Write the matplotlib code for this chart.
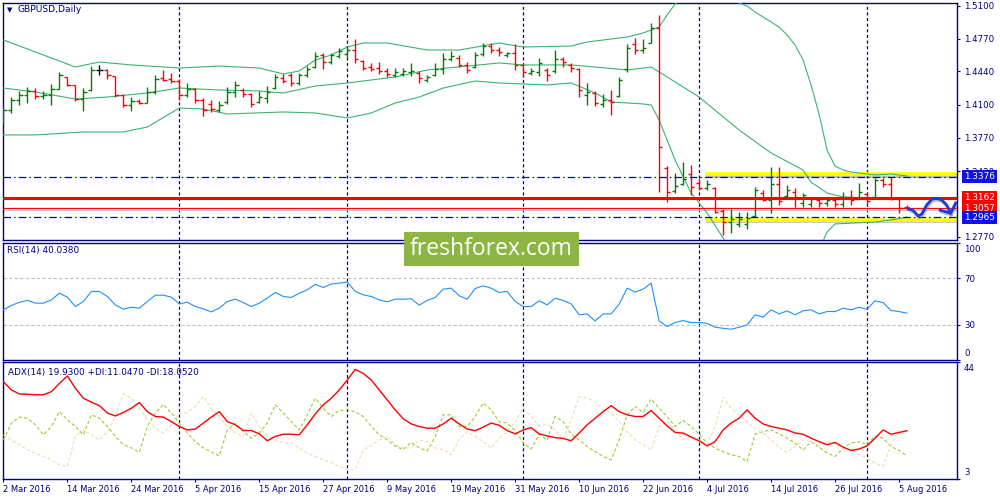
import matplotlib
matplotlib.use('Agg')
import matplotlib.pyplot as plt
import matplotlib.patheffects as pe
from matplotlib.patches import Rectangle
from matplotlib.transforms import blended_transform_factory

# GBPUSD daily bars, 2 Mar 2016 .. 8 Aug 2016
opens = [1.3930, 1.4050, 1.4150, 1.4200, 1.4240, 1.4190, 1.4200, 1.4260, 1.4380, 1.4300,
         1.4160, 1.4250, 1.4450, 1.4450, 1.4390, 1.4200, 1.4100, 1.4140, 1.4120, 1.4230,
         1.4370, 1.4360, 1.4340, 1.4200, 1.4260, 1.4150, 1.4110, 1.4050, 1.4130, 1.4230,
         1.4250, 1.4210, 1.4130, 1.4170, 1.4270, 1.4370, 1.4400, 1.4320, 1.4400, 1.4480,
         1.4600, 1.4530, 1.4590, 1.4610, 1.4660, 1.4540, 1.4480, 1.4470, 1.4440, 1.4400,
         1.4410, 1.4430, 1.4420, 1.4350, 1.4400, 1.4460, 1.4560, 1.4570, 1.4500, 1.4480,
         1.4610, 1.4700, 1.4660, 1.4600, 1.4620, 1.4500, 1.4420, 1.4430, 1.4450, 1.4440,
         1.4560, 1.4500, 1.4460, 1.4200, 1.4220, 1.4110, 1.4150, 1.4190, 1.4460, 1.4720,
         1.4650, 1.4730, 1.4880, 1.3460, 1.3230, 1.3300, 1.3400, 1.3310, 1.3260, 1.3260,
         1.3030, 1.2920, 1.2900, 1.2900, 1.2980, 1.3210, 1.3140, 1.3300, 1.3180, 1.3220,
         1.3110, 1.3100, 1.3140, 1.3110, 1.3140, 1.3100, 1.3170, 1.3150, 1.3200, 1.3170,
         1.3340, 1.3300, 1.3150, 1.3070]
highs = [1.4079, 1.4180, 1.4241, 1.4281, 1.4271, 1.4241, 1.4312, 1.4433, 1.4382, 1.4302,
         1.4271, 1.4493, 1.4504, 1.4463, 1.4392, 1.4211, 1.4180, 1.4160, 1.4281, 1.4403,
         1.4453, 1.4423, 1.4362, 1.4322, 1.4271, 1.4170, 1.4150, 1.4140, 1.4281, 1.4342,
         1.4271, 1.4221, 1.4241, 1.4291, 1.4413, 1.4413, 1.4423, 1.4423, 1.4493, 1.4635,
         1.4625, 1.4625, 1.4675, 1.4695, 1.4766, 1.4554, 1.4524, 1.4534, 1.4473, 1.4473,
         1.4473, 1.4524, 1.4443, 1.4403, 1.4524, 1.4625, 1.4645, 1.4605, 1.4534, 1.4635,
         1.4726, 1.4726, 1.4685, 1.4635, 1.4716, 1.4524, 1.4473, 1.4574, 1.4473, 1.4655,
         1.4584, 1.4524, 1.4473, 1.4322, 1.4241, 1.4211, 1.4251, 1.4382, 1.4716, 1.4776,
         1.4766, 1.4928, 1.5009, 1.3483, 1.3413, 1.3524, 1.3494, 1.3362, 1.3342, 1.3271,
         1.3049, 1.3049, 1.3019, 1.3019, 1.3271, 1.3241, 1.3473, 1.3473, 1.3292, 1.3261,
         1.3211, 1.3170, 1.3160, 1.3160, 1.3160, 1.3221, 1.3241, 1.3312, 1.3221, 1.3362,
         1.3362, 1.3372, 1.3160, 1.3089]
lows = [1.3908, 1.4019, 1.4100, 1.4120, 1.4160, 1.4160, 1.4100, 1.4261, 1.4291, 1.4140,
        1.4039, 1.4241, 1.4403, 1.4362, 1.4180, 1.4079, 1.4039, 1.4110, 1.4120, 1.4211,
        1.4342, 1.4322, 1.4150, 1.4180, 1.4120, 1.3988, 1.4029, 1.4029, 1.4110, 1.4180,
        1.4180, 1.4079, 1.4120, 1.4120, 1.4261, 1.4322, 1.4291, 1.4302, 1.4382, 1.4473,
        1.4463, 1.4514, 1.4574, 1.4584, 1.4524, 1.4453, 1.4443, 1.4413, 1.4382, 1.4382,
        1.4392, 1.4392, 1.4322, 1.4332, 1.4392, 1.4413, 1.4544, 1.4483, 1.4423, 1.4473,
        1.4594, 1.4625, 1.4594, 1.4584, 1.4453, 1.4382, 1.4402, 1.4392, 1.4342, 1.4423,
        1.4483, 1.4433, 1.4180, 1.4100, 1.4089, 1.4079, 1.3999, 1.4180, 1.4433, 1.4615,
        1.4625, 1.4726, 1.3221, 1.3120, 1.3211, 1.3292, 1.3191, 1.3241, 1.3241, 1.3009,
        1.2787, 1.2807, 1.2867, 1.2847, 1.2968, 1.3130, 1.3009, 1.3089, 1.3170, 1.3069,
        1.3069, 1.3069, 1.3069, 1.3079, 1.3069, 1.3069, 1.3089, 1.3150, 1.3100, 1.3170,
        1.3271, 1.3140, 1.3009, 1.3039]
closes = [1.4050, 1.4150, 1.4200, 1.4240, 1.4190, 1.4200, 1.4260, 1.4400, 1.4300, 1.4160,
          1.4230, 1.4450, 1.4450, 1.4400, 1.4200, 1.4100, 1.4140, 1.4120, 1.4230, 1.4360,
          1.4350, 1.4340, 1.4200, 1.4260, 1.4150, 1.4050, 1.4060, 1.4100, 1.4230, 1.4300,
          1.4210, 1.4110, 1.4180, 1.4230, 1.4380, 1.4340, 1.4320, 1.4400, 1.4460, 1.4590,
          1.4530, 1.4600, 1.4640, 1.4650, 1.4560, 1.4470, 1.4460, 1.4440, 1.4410, 1.4430,
          1.4440, 1.4440, 1.4370, 1.4380, 1.4460, 1.4560, 1.4590, 1.4500, 1.4450, 1.4600,
          1.4700, 1.4660, 1.4630, 1.4620, 1.4500, 1.4430, 1.4440, 1.4520, 1.4400, 1.4560,
          1.4530, 1.4470, 1.4250, 1.4230, 1.4120, 1.4150, 1.4130, 1.4350, 1.4680, 1.4660,
          1.4680, 1.4880, 1.3680, 1.3220, 1.3280, 1.3350, 1.3270, 1.3260, 1.3300, 1.3020,
          1.2920, 1.2950, 1.2950, 1.2960, 1.3240, 1.3140, 1.3300, 1.3130, 1.3240, 1.3170,
          1.3190, 1.3150, 1.3110, 1.3140, 1.3100, 1.3170, 1.3140, 1.3220, 1.3130, 1.3340,
          1.3300, 1.3150, 1.3060, 1.3050]

# Bollinger bands, sampled at bar numbers
bb_up_bar = [0, 4, 9, 12, 16, 22, 27, 32, 35, 37, 39, 41, 43, 45, 48, 53, 57, 62, 65, 71, 73,
             78, 80, 82, 83, 84, 86, 89, 92, 93, 94, 95, 96, 97, 98, 99, 100, 101, 102, 103,
             104, 105, 106, 109, 111, 113]
bb_up = [1.4756, 1.4635, 1.4483, 1.4534, 1.4504, 1.4473, 1.4493, 1.4473, 1.4413, 1.4443, 1.4554,
         1.4605, 1.4685, 1.4726, 1.4726, 1.4655, 1.4655, 1.4726, 1.4685, 1.4695, 1.4736,
         1.4786, 1.4827, 1.4887, 1.5008, 1.5120, 1.5240, 1.5260, 1.5130, 1.5099, 1.5039,
         1.4988, 1.4938, 1.4887, 1.4807, 1.4705, 1.4554, 1.4302, 1.4009, 1.3645, 1.3483,
         1.3443, 1.3423, 1.3393, 1.3403, 1.3382]
bb_mid_bar = [0, 4, 9, 13, 18, 22, 27, 32, 35, 39, 43, 49, 53, 62, 65, 71, 74, 78, 81, 82, 87,
              92, 96, 100, 101, 103, 105, 108, 113]
bb_mid = [1.4271, 1.4231, 1.4160, 1.4180, 1.4221, 1.4271, 1.4251, 1.4241, 1.4221, 1.4291, 1.4322,
          1.4382, 1.4453, 1.4524, 1.4504, 1.4504, 1.4483, 1.4453, 1.4483, 1.4433, 1.4180,
          1.3847, 1.3615, 1.3443, 1.3320, 1.3211, 1.3170, 1.3160, 1.3150]
bb_low_bar = [0, 4, 10, 15, 18, 22, 25, 28, 35, 39, 43, 46, 49, 52, 55, 59, 62, 68, 71, 74, 76,
              80, 81, 82, 84, 86, 88, 90, 92, 96, 100, 102, 103, 104, 109, 111, 113]
bb_low = [1.3797, 1.3797, 1.3827, 1.3827, 1.3877, 1.4069, 1.4059, 1.4009, 1.4029, 1.4019, 1.3968,
          1.4019, 1.4120, 1.4180, 1.4271, 1.4342, 1.4322, 1.4302, 1.4322, 1.4221, 1.4130,
          1.4110, 1.4100, 1.3948, 1.3544, 1.3211, 1.3009, 1.2756, 1.2560, 1.2420, 1.2500,
          1.2635, 1.2817, 1.2898, 1.2918, 1.2938, 1.2968]

rsi = [42.9, 46.6, 49.4, 50.9, 48.6, 48.6, 51.4, 57.1, 53.7, 45.7,
       50.0, 58.6, 58.6, 54.3, 47.1, 43.4, 45.1, 44.3, 50.0, 55.4,
       55.4, 53.7, 48.0, 49.4, 45.7, 43.7, 41.1, 44.3, 50.0, 52.0,
       49.1, 45.7, 48.6, 52.9, 57.7, 54.3, 53.4, 57.1, 60.0, 64.6,
       62.0, 64.9, 65.7, 66.6, 58.6, 55.7, 54.3, 51.4, 49.7, 52.0,
       52.0, 52.3, 46.9, 50.9, 53.4, 60.6, 61.4, 54.9, 52.0, 61.1,
       63.4, 61.4, 57.7, 58.6, 50.0, 45.7, 45.7, 50.6, 47.1, 52.9,
       50.9, 48.0, 38.6, 39.4, 33.4, 39.4, 39.4, 47.7, 61.4, 58.0,
       60.6, 65.7, 33.4, 28.6, 32.0, 33.7, 32.0, 32.0, 31.4, 28.0,
       27.1, 26.3, 28.0, 30.0, 38.6, 36.6, 42.9, 39.4, 42.0, 38.6,
       42.0, 42.9, 39.4, 41.4, 41.4, 44.3, 42.9, 45.1, 43.4, 50.6,
       49.1, 42.3, 41.4, 40.04]

adx = [37.1, 34.2, 32.8, 32.7, 32.5, 32.5, 33.6, 36.5, 39.1, 34.8,
       31.3, 29.9, 28.7, 26.1, 25.1, 26.3, 27.8, 29.8, 26.6, 24.9,
       24.7, 23.1, 21.4, 20.2, 20.5, 22.6, 24.7, 26.6, 23.1, 22.0,
       20.0, 20.0, 18.8, 16.4, 17.9, 18.7, 18.7, 18.5, 22.0, 25.8,
       29.0, 31.3, 34.2, 37.7, 41.4, 40.0, 37.7, 34.2, 30.7, 27.2,
       24.1, 22.3, 21.4, 20.8, 20.8, 22.3, 24.3, 22.3, 20.5, 19.9,
       21.2, 22.6, 21.8, 20.0, 18.8, 20.2, 21.0, 18.8, 18.1, 17.5,
       17.2, 16.4, 19.1, 22.0, 24.3, 26.6, 28.7, 26.6, 25.5, 24.9,
       24.9, 27.0, 24.3, 21.6, 19.3, 19.1, 17.7, 16.4, 14.6, 16.1,
       20.2, 22.6, 24.3, 27.2, 24.3, 22.3, 21.4, 20.8, 20.2, 19.1,
       18.7, 17.3, 16.1, 15.0, 15.8, 14.2, 13.0, 13.5, 14.6, 17.3,
       20.2, 18.7, 19.3, 19.93]
plus_di = [16.7, 22.6, 24.7, 24.3, 22.0, 18.5, 21.4, 26.6, 23.7, 21.4,
           18.5, 25.5, 24.3, 21.4, 17.9, 15.0, 13.9, 12.4, 21.4, 26.1,
           29.2, 26.1, 22.6, 19.1, 16.1, 13.9, 12.5, 11.1, 20.2, 22.6,
           19.6, 17.3, 19.1, 22.6, 29.0, 26.1, 23.1, 20.2, 25.5, 31.3,
           27.8, 24.9, 27.0, 27.2, 26.6, 24.9, 21.4, 18.5, 16.7, 14.5,
           13.3, 15.8, 13.9, 12.8, 17.9, 25.5, 25.5, 21.4, 21.4, 24.9,
           29.6, 27.2, 23.1, 22.6, 20.0, 15.6, 13.5, 18.7, 16.7, 24.9,
           23.1, 18.7, 16.7, 14.4, 12.6, 10.9, 9.7, 16.7, 25.5, 28.4,
           26.3, 31.0, 27.8, 24.9, 21.4, 23.5, 21.4, 18.7, 15.6, 13.8,
           12.6, 11.5, 10.9, 9.1, 18.7, 19.6, 20.2, 18.8, 17.3, 15.6,
           13.2, 16.1, 14.2, 12.1, 10.9, 13.8, 15.6, 16.1, 15.0, 18.1,
           17.3, 14.4, 13.0, 11.05]
minus_di = [18.5, 16.7, 15.0, 13.3, 12.1, 10.9, 9.7, 8.0, 7.4, 17.9,
            20.2, 18.5, 16.7, 19.6, 24.9, 32.8, 31.3, 27.8, 23.7, 20.8,
            19.1, 22.0, 26.1, 26.1, 28.4, 31.9, 27.8, 24.9, 21.4, 19.1,
            17.9, 26.1, 21.4, 17.9, 16.7, 15.6, 15.6, 13.9, 12.1, 10.9,
            9.7, 8.8, 7.4, 6.2, 6.2, 13.3, 14.6, 16.7, 18.1, 15.0,
            13.9, 13.9, 16.7, 16.1, 13.9, 13.3, 11.5, 16.7, 19.6, 17.9,
            16.1, 13.9, 17.3, 19.6, 23.1, 27.8, 24.9, 21.4, 22.2, 20.2,
            16.7, 23.7, 31.9, 31.3, 30.1, 27.2, 26.1, 23.1, 19.6, 16.7,
            15.0, 13.2, 21.4, 23.1, 20.2, 16.7, 17.9, 16.7, 15.0, 21.4,
            31.7, 27.8, 25.5, 23.1, 20.2, 19.1, 16.7, 14.2, 12.3, 14.4,
            16.7, 16.1, 14.4, 15.8, 15.6, 13.5, 13.2, 11.5, 10.3, 8.6,
            7.4, 15.0, 20.2, 18.05]

date_labels = ['2 Mar 2016', '14 Mar 2016', '24 Mar 2016', '5 Apr 2016', '15 Apr 2016',
               '27 Apr 2016', '9 May 2016', '19 May 2016', '31 May 2016', '10 Jun 2016',
               '22 Jun 2016', '4 Jul 2016', '14 Jul 2016', '26 Jul 2016', '5 Aug 2016']
month_start_bars = [22, 43, 65, 87, 108]

price_ticks = [1.5100, 1.4770, 1.4440, 1.4100, 1.3770, 1.3430, 1.2770]
levels_blue = [1.3376, 1.2965]
levels_red = [1.3162, 1.3057]
bid_level = 1.3040
zone_levels = [1.3398, 1.2943]
zone_start = 87.75

# hand drawn forecast arrow (bar number, price)
fc_x = [113.16, 113.79, 114.41, 114.84, 115.46, 116.09, 116.71, 117.34, 117.96, 118.46]
fc_y = [1.3056, 1.3032, 1.2978, 1.2999, 1.3090, 1.3147, 1.3157, 1.3140, 1.3090, 1.3006]
head_x = [117.1, 118.46, 119.1]
head_y = [1.3039, 1.3006, 1.3113]

NAVY = '#000080'
W, H = 1000, 500
XMAX = 119.25

plt.rcParams['font.family'] = ['DejaVu Sans']
fig = plt.figure(figsize=(10, 5), dpi=100)
fig.patch.set_facecolor('white')


def panel(top, bottom):
    return fig.add_axes([3 / W, 1 - bottom / H, 954 / W, (bottom - top) / H])


ax1 = panel(3, 240)
ax2 = panel(243, 360)
ax3 = panel(362, 479)

for ax in (ax1, ax2, ax3):
    ax.set_xlim(-0.05, XMAX)
    for s in ax.spines.values():
        s.set_color(NAVY)
        s.set_linewidth(1.0)
    ax.yaxis.tick_right()
    ax.tick_params(axis='y', colors=NAVY, labelcolor=NAVY, length=2.5, width=0.8,
                   pad=2.5, labelsize=6.2)
    ax.tick_params(axis='x', bottom=False, labelbottom=False)
    for mb in month_start_bars:
        ax.axvline(mb, color=NAVY, lw=0.9, ls=(0, (2.5, 2)), zorder=1)

# ---- price panel
ax1.set_ylim(1.2736, 1.51297)
n = len(closes)
bar_cols = []
for o, c in zip(opens, closes):
    if c > o:
        bar_cols.append('#007f00')
    elif c < o:
        bar_cols.append('#ff0000')
    else:
        bar_cols.append('black')
xs = list(range(n))
ax1.vlines(xs, lows, highs, colors=bar_cols, lw=1.0, zorder=4)
ax1.hlines(opens, [x - 0.4 for x in xs], xs, colors=bar_cols, lw=1.0, zorder=4)
ax1.hlines(closes, xs, [x + 0.4 for x in xs], colors=bar_cols, lw=1.0, zorder=4)

bb_col = '#3cb371'
ax1.plot(bb_up_bar, bb_up, color=bb_col, lw=0.8, zorder=3)
ax1.plot(bb_mid_bar, bb_mid, color=bb_col, lw=0.8, zorder=3)
ax1.plot(bb_low_bar, bb_low, color=bb_col, lw=0.8, zorder=3)

shadow = [pe.SimpleLineShadow(offset=(0.6, -1.4), shadow_color='#707070', alpha=0.45), pe.Normal()]
for lv in zone_levels:
    ax1.plot([zone_start, XMAX], [lv, lv], color='#ffff00', lw=2.6, solid_capstyle='butt',
             path_effects=shadow, zorder=2)

ax1.axhline(bid_level, color='#c8c8c8', lw=0.9, zorder=2)
ax1.axhline(levels_red[0], color='#ff0000', lw=2.2, zorder=5)
ax1.axhline(levels_red[1], color='#ff0000', lw=0.9, zorder=5)
for lv in levels_blue:
    ax1.axhline(lv, color='#0000cc', lw=0.9, ls=(0, (6, 2.5, 1.2, 2.5)), zorder=5)

ax1.plot(fc_x, fc_y, color='#1c3ae0', lw=2.0, solid_joinstyle='round', solid_capstyle='round',
         path_effects=shadow, zorder=6, clip_on=False)
ax1.plot(head_x, head_y, color='#1c3ae0', lw=2.0, solid_joinstyle='round', solid_capstyle='round',
         path_effects=shadow, zorder=6, clip_on=False)

ax1.set_yticks(price_ticks)
ax1.set_yticklabels(['%.4f' % p for p in price_ticks])

trans1 = blended_transform_factory(ax1.transAxes, ax1.transData)
for lv, col in [(levels_blue[0], '#1010e8'), (levels_red[0], '#ff0000'),
                (levels_red[1], '#ff0000'), (levels_blue[1], '#1010e8')]:
    ax1.text(1 + 7 / 954, lv, '%.4f' % lv, transform=trans1, color='white', fontsize=6.4,
             va='center', ha='left', clip_on=False, zorder=10,
             bbox=dict(boxstyle='square,pad=0.22', fc=col, ec='none'))

# ---- RSI panel
ax2.set_ylim(0, 100)
ax2.plot(xs, rsi, color='#1e90ff', lw=0.8, zorder=3)
for lv in (70, 30):
    ax2.axhline(lv, color='#c0c0c0', lw=0.8, ls=(0, (3, 2)), zorder=1)
ax2.set_yticks([0, 30, 70, 100])
ax2.set_yticklabels(['', '30', '70', ''])
trans2 = blended_transform_factory(ax2.transAxes, ax2.transData)
ax2.text(1 + 7 / 954, 98.5, '100', transform=trans2, color=NAVY, fontsize=6.2, va='top', ha='left')
ax2.text(1 + 7 / 954, 1.5, '0', transform=trans2, color=NAVY, fontsize=6.2, va='bottom', ha='left')

# ---- ADX panel
ax3.set_ylim(3, 44)
ax3.plot(xs, plus_di, color='#9acd32', lw=0.8, ls=(0, (3, 2)), zorder=3)
ax3.plot(xs, minus_di, color='#f5d9b0', lw=0.8, ls=(0, (3, 2)), zorder=3)
ax3.plot(xs, adx, color='#ff0000', lw=1.0, zorder=4)
ax3.set_yticks([3, 44])
ax3.set_yticklabels(['', ''])
trans3 = blended_transform_factory(ax3.transAxes, ax3.transData)
ax3.text(1 + 7 / 954, 43.3, '44', transform=trans3, color=NAVY, fontsize=6.2, va='top', ha='left')
ax3.text(1 + 7 / 954, 3.8, '3', transform=trans3, color=NAVY, fontsize=6.2, va='bottom', ha='left')

ax3.tick_params(axis='x', bottom=True, labelbottom=True, colors=NAVY, labelcolor=NAVY,
                length=2.5, width=0.8, pad=1.5, labelsize=6.0)
ax3.set_xticks(range(0, n, 8))
ax3.set_xticklabels(date_labels, ha='left')

# ---- captions
fig.text(10 / W, 1 - 10 / H, '\u25bc', color=NAVY, fontsize=5, va='center', ha='center')
fig.text(18 / W, 1 - 10 / H, 'GBPUSD,Daily', color=NAVY, fontsize=6.6, va='center', ha='left')
fig.text(7 / W, 1 - 251 / H, 'RSI(14) 40.0380', color=NAVY, fontsize=6.4, va='center', ha='left')
fig.text(8 / W, 1 - 372 / H, 'ADX(14) 19.9300 +DI:11.0470 -DI:18.0520', color=NAVY,
         fontsize=6.4, va='center', ha='left')

# ---- watermark
fig.patches.append(Rectangle((404 / W, 1 - 266 / H), 175 / W, 34 / H, transform=fig.transFigure,
                             facecolor='#8db543', edgecolor='none', zorder=20))
fig.text(491 / W, 1 - 249 / H, 'freshforex.com', color='white', fontsize=16.5,
         family=['Open Sans', 'DejaVu Sans'], va='center', ha='center', zorder=21)

fig.savefig('out.png', dpi=100)
